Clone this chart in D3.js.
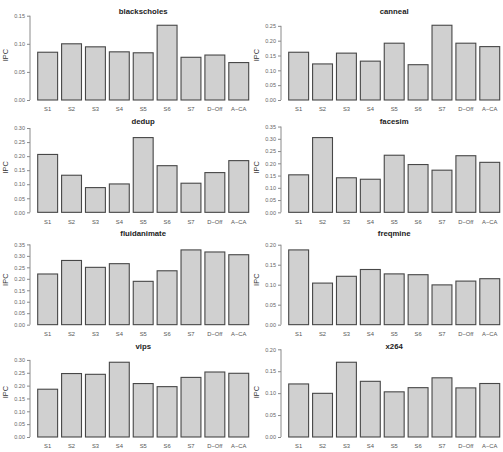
<!DOCTYPE html>
<html>
<head>
<meta charset="utf-8">
<script src="https://cdn.jsdelivr.net/npm/d3@7"></script>
<style>
  body { margin: 0; background: #fff; }
  svg { display: block; font-family: "Liberation Sans", Arial, sans-serif; }
</style>
</head>
<body>
<svg id="chart" width="503" height="452"></svg>
<script>
// categories on the x axis, same for every benchmark
var categories = ["S1", "S2", "S3", "S4", "S5", "S6", "S7", "D\u2212Off", "A\u2212CA"];
var benchmarks = ["blackscholes", "canneal", "dedup", "facesim", "fluidanimate", "freqmine", "vips", "x264"];

// IPC values
var blackscholes = [0.085, 0.100, 0.0946, 0.0857, 0.084, 0.133, 0.076, 0.080, 0.0666];
var canneal      = [0.161, 0.1216, 0.158, 0.131, 0.1915, 0.119, 0.252, 0.1915, 0.180];
var dedup        = [0.206, 0.132, 0.088, 0.101, 0.266, 0.166, 0.1036, 0.1414, 0.184];
var facesim      = [0.153, 0.305, 0.141, 0.135, 0.233, 0.195, 0.172, 0.231, 0.204];
var fluidanimate = [0.221, 0.280, 0.250, 0.266, 0.189, 0.235, 0.326, 0.317, 0.305];
var freqmine     = [0.187, 0.104, 0.121, 0.138, 0.127, 0.125, 0.0995, 0.109, 0.115];
var vips         = [0.186, 0.247, 0.244, 0.291, 0.208, 0.196, 0.232, 0.253, 0.248];
var x264         = [0.121, 0.0996, 0.1705, 0.127, 0.103, 0.1125, 0.135, 0.112, 0.122];

// y tick labels per panel
var ticks015 = [0, 0.05, 0.10, 0.15];
var ticks020 = [0, 0.05, 0.10, 0.15, 0.20];
var ticks025 = [0, 0.05, 0.10, 0.15, 0.20, 0.25];
var ticks030 = [0, 0.05, 0.10, 0.15, 0.20, 0.25, 0.30];
var ticks035 = [0, 0.05, 0.10, 0.15, 0.20, 0.25, 0.30, 0.35];

var series = [blackscholes, canneal, dedup, facesim, fluidanimate, freqmine, vips, x264];
var yTicks = [ticks015, ticks025, ticks030, ticks035, ticks035, ticks020, ticks030, ticks020];

var svg = d3.select("#chart");
var panelW = 251, panelH = 112.33;
var base = 100;   // baseline inside a panel

benchmarks.forEach(function(name, i) {
    var col = i % 2, row = Math.floor(i / 2);
    var values = series[i];
    var g = svg.append("g")
        .attr("transform", "translate(" + (col * panelW) + "," + (row * panelH) + ")");

    var x = d3.scaleBand()
        .domain(categories)
        .range([37.7, 248.7])
        .paddingInner(0.2 / 1.2)
        .paddingOuter(0);

    var y = d3.scaleLinear()
        .domain([0, d3.max(values) * 1.18])
        .range([base, base - 88.2]);

    // bars
    g.append("g")
        .selectAll("rect")
        .data(values)
        .enter()
        .append("rect")
        .attr("x", function(d, j) { return x(categories[j]); })
        .attr("y", function(d) { return y(d); })
        .attr("width", x.bandwidth())
        .attr("height", function(d) { return y(0) - y(d); })
        .attr("fill", "#d0d0d0")
        .attr("stroke", "#474747")
        .attr("stroke-width", 1.1);

    // y axis, R style: line only between first and last tick
    var tv = yTicks[i];
    var ya = g.append("g")
        .attr("transform", "translate(30,0)")
        .call(d3.axisLeft(y).tickValues(tv).tickSize(3).tickPadding(2).tickFormat(d3.format(".2f")));
    ya.select(".domain").remove();
    ya.append("line")
        .attr("x1", 0).attr("x2", 0)
        .attr("y1", y(tv[0])).attr("y2", y(tv[tv.length - 1]))
        .attr("stroke", "#8a8a8a");
    ya.selectAll(".tick line").attr("stroke", "#8a8a8a");
    ya.selectAll(".tick text")
        .attr("fill", "#666")
        .attr("font-size", 5.5)
        .attr("font-family", "Liberation Sans, Arial, sans-serif");

    // x labels
    var xa = g.append("g")
        .attr("transform", "translate(0," + base + ")")
        .call(d3.axisBottom(x).tickSize(0).tickPadding(7.3));
    xa.select(".domain").remove();
    xa.selectAll(".tick text")
        .attr("fill", "#555")
        .attr("font-size", 5.8)
        .attr("font-family", "Liberation Sans, Arial, sans-serif");

    // y title
    g.append("text")
        .attr("transform", "translate(8.4,55) rotate(-90)")
        .attr("text-anchor", "middle")
        .attr("font-size", 7.5)
        .attr("fill", "#333")
        .text("IPC");

    // panel title (first row sits a little lower in the reference)
    g.append("text")
        .attr("x", 143.2)
        .attr("y", row === 0 ? 14 : 11.6)
        .attr("text-anchor", "middle")
        .attr("font-size", 7.75)
        .attr("font-weight", "bold")
        .attr("fill", "#222")
        .text(name);
});
</script>
</body>
</html>
